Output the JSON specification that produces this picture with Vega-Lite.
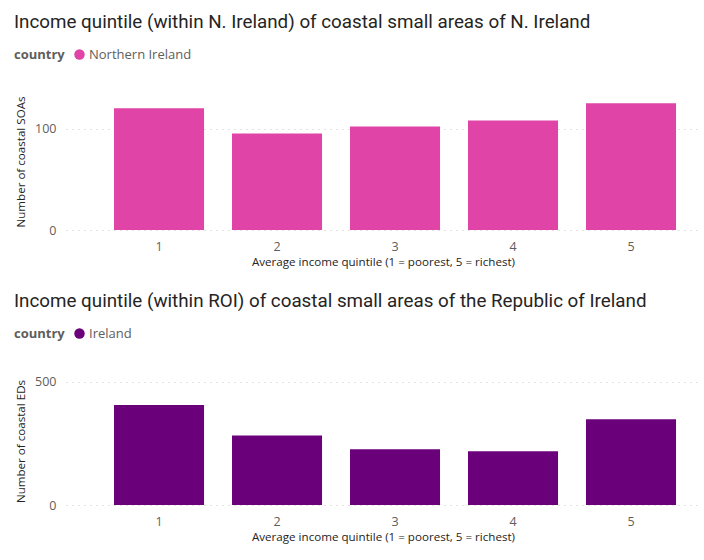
{
  "$schema": "https://vega.github.io/schema/vega-lite/v6.json",
  "background": "white",
  "padding": {"left": 14, "right": 4, "top": 13, "bottom": 4},
  "spacing": 23,
  "vconcat": [
    {
      "title": {"text": "Income quintile (within N. Ireland) of coastal small areas of N. Ireland"},
      "width": 634,
      "height": 137,
      "data": {
        "values": [
          {"quintile": "1", "count": 120, "country": "Northern Ireland"},
          {"quintile": "2", "count": 95, "country": "Northern Ireland"},
          {"quintile": "3", "count": 102, "country": "Northern Ireland"},
          {"quintile": "4", "count": 108, "country": "Northern Ireland"},
          {"quintile": "5", "count": 125, "country": "Northern Ireland"}
        ]
      },
      "mark": {"type": "bar"},
      "encoding": {
        "x": {
          "field": "quintile",
          "type": "ordinal",
          "title": "Average income quintile (1 = poorest, 5 = richest)",
          "scale": {"paddingInner": 0.237, "paddingOuter": 0.305, "align": 0.667},
          "axis": {"labelAngle": 0}
        },
        "y": {
          "field": "count",
          "type": "quantitative",
          "title": "Number of coastal SOAs",
          "scale": {"domain": [0, 135], "nice": false},
          "axis": {"values": [0, 100]}
        },
        "color": {
          "field": "country",
          "type": "nominal",
          "scale": {"range": ["#E044A7"]},
          "legend": {"orient": "none", "legendX": -52, "legendY": -45, "title": "country"}
        }
      }
    },
    {
      "title": {"text": "Income quintile (within ROI) of coastal small areas of the Republic of Ireland"},
      "width": 634,
      "height": 128,
      "data": {
        "values": [
          {"quintile": "1", "count": 406, "country": "Ireland"},
          {"quintile": "2", "count": 282, "country": "Ireland"},
          {"quintile": "3", "count": 226, "country": "Ireland"},
          {"quintile": "4", "count": 218, "country": "Ireland"},
          {"quintile": "5", "count": 348, "country": "Ireland"}
        ]
      },
      "mark": {"type": "bar"},
      "encoding": {
        "x": {
          "field": "quintile",
          "type": "ordinal",
          "title": "Average income quintile (1 = poorest, 5 = richest)",
          "scale": {"paddingInner": 0.237, "paddingOuter": 0.305, "align": 0.667},
          "axis": {"labelAngle": 0}
        },
        "y": {
          "field": "count",
          "type": "quantitative",
          "title": "Number of coastal EDs",
          "scale": {"domain": [0, 520], "nice": false},
          "axis": {"values": [0, 500]}
        },
        "color": {
          "field": "country",
          "type": "nominal",
          "scale": {"range": ["#6B007B"]},
          "legend": {"orient": "none", "legendX": -52, "legendY": -50, "title": "country"}
        }
      }
    }
  ],
  "resolve": {"scale": {"color": "independent"}, "legend": {"color": "independent"}},
  "config": {
    "view": {"stroke": null},
    "title": {
      "anchor": "start",
      "frame": "bounds",
      "font": "Roboto",
      "fontSize": 18.8,
      "fontWeight": "normal",
      "color": "#252423",
      "offset": 16
    },
    "axis": {
      "domain": false,
      "ticks": false,
      "labelFont": "Open Sans",
      "labelFontSize": 12.5,
      "labelColor": "#605E5C",
      "titleFont": "Open Sans",
      "titleFontSize": 11.6,
      "titleFontWeight": "normal",
      "titleColor": "#252423"
    },
    "axisX": {"grid": false, "labelPadding": 10, "titlePadding": 4},
    "axisY": {
      "grid": true,
      "gridColor": "#C8C6C4",
      "gridDash": [1, 5],
      "gridWidth": 1,
      "labelPadding": 10,
      "titlePadding": 8
    },
    "legend": {
      "direction": "horizontal",
      "titleOrient": "left",
      "titleFont": "Open Sans",
      "titleFontSize": 13,
      "titleFontWeight": "bold",
      "titleColor": "#605E5C",
      "labelFont": "Open Sans",
      "labelFontSize": 13,
      "labelColor": "#605E5C",
      "symbolType": "circle",
      "symbolSize": 110,
      "symbolStrokeWidth": 0,
      "titlePadding": 8,
      "labelOffset": 3
    }
  }
}
